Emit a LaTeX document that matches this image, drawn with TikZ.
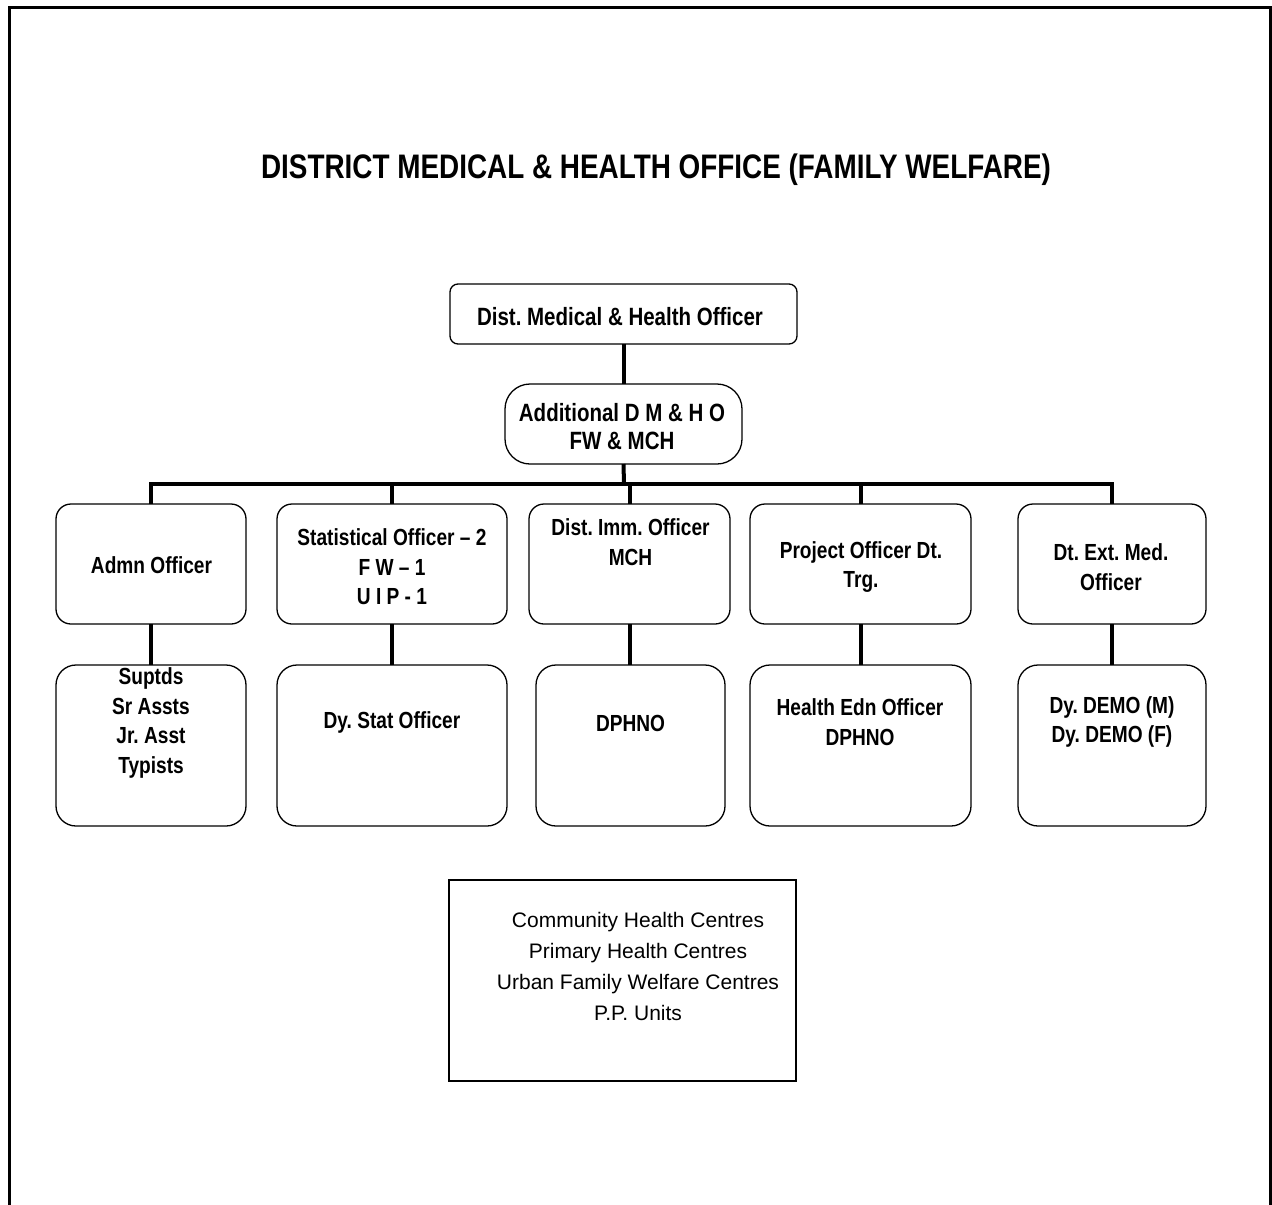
\documentclass[tikz,border=0pt]{standalone}
\usepackage{fontspec}
\setmainfont{Liberation Sans}
\newfontfamily\condensed{Liberation Sans}[FakeStretch=0.82]
\frenchspacing
\begin{document}
\begin{tikzpicture}[x=1pt,y=-1pt,
  box/.style={draw, line width=1.3pt, rounded corners=#1, inner sep=0pt, outer sep=0pt},
  rowbox/.style={box=15pt, minimum height=120pt},
  lowbox/.style={box=20pt, minimum height=161pt},
  lbl/.style={font=\condensed\bfseries\fontsize{23.3}{29.5}\selectfont, align=center, inner sep=0pt},
  headlbl/.style={font=\condensed\bfseries\fontsize{25}{28}\selectfont, align=center, inner sep=0pt},
  conn/.style={line width=4pt}]
\useasboundingbox (0,0) rectangle (1272,1205);

% page frame, open at the bottom
\draw[line width=3pt] (9,1205) -- (9,7) -- (1270,7) -- (1270,1205);

% title
\node[font=\condensed\bfseries\fontsize{34}{40}\selectfont, anchor=base, inner sep=0pt] (title) at (656,178)
  {DISTRICT MEDICAL \& HEALTH OFFICE (FAMILY WELFARE)};

% head of office
\node[box=8pt, minimum width=347pt, minimum height=60pt] (dmho) at (623.5,314) {};
\node[headlbl] (dmhoT) at (620,317) {Dist. Medical \& Health Officer};

\node[box=25pt, minimum width=237pt, minimum height=80pt] (add) at (623.5,424) {};
\node[headlbl] (addT) at (622,427) {Additional D M \& H O\\FW \& MCH};

% officers
\node[rowbox, minimum width=190pt] (admn) at (151,564) {};
\node[rowbox, minimum width=230pt] (stat) at (392,564) {};
\node[rowbox, minimum width=201pt] (imm)  at (629.5,564) {};
\node[rowbox, minimum width=221pt] (proj) at (860.5,564) {};
\node[rowbox, minimum width=188pt] (ext)  at (1112,564) {};

\node[lbl] (admnT) at (151.5,565) {Admn Officer};
\node[lbl] (statT) at (392,567) {Statistical Officer – 2\\F W – 1\\U I P - 1};
\node[lbl] (immT)  at (630.5,542) {Dist. Imm. Officer\\MCH};
\node[lbl] (projT) at (861,567) {Project Officer Dt.\\Trg.};
\node[lbl] (extT)  at (1111,567) {Dt. Ext. Med.\\Officer};

% staff under each officer
\node[lowbox, minimum width=190pt] (sup)  at (151,745.5) {};
\node[lowbox, minimum width=230pt] (dso)  at (392,745.5) {};
\node[lowbox, minimum width=189pt] (dph)  at (630.5,745.5) {};
\node[lowbox, minimum width=221pt] (heo)  at (860.5,745.5) {};
\node[lowbox, minimum width=188pt] (demo) at (1112,745.5) {};

\node[lbl] (supT)  at (151,723) {Suptds\\Sr Assts\\Jr. Asst\\Typists};
\node[lbl] (dsoT)  at (392,722) {Dy. Stat Officer};
\node[lbl] (dphT)  at (630.5,723) {DPHNO};
\node[lbl] (heoT)  at (860,722) {Health Edn Officer\\DPHNO};
\node[lbl] (demoT) at (1112,722) {Dy. DEMO (M)\\Dy. DEMO (F)};

% field units
\node[draw, line width=1.3pt, minimum width=347pt, minimum height=201pt, inner sep=0pt] (units) at (622.5,980.5) {};
\node[font=\fontsize{21}{31}\selectfont, align=center, inner sep=0pt] (unitsT) at (638,966)
  {Community Health Centres\\Primary Health Centres\\Urban Family Welfare Centres\\P.P. Units};

% reporting lines
\coordinate (bus) at (624,484);
\draw[conn] (dmho.south) -- (add.north);
\draw[conn] (add.south) -- (bus);
\draw[conn, line cap=rect] (admn.north |- bus) -- (ext.north |- bus);
\foreach \n in {admn,stat,imm,proj,ext}
  \draw[conn] (\n.north) -- (\n.north |- bus);
\draw[conn] (admn.south) -- (sup.north);
\draw[conn] (stat.south) -- (dso.north);
\draw[conn] (imm.south) -- (imm.south |- dph.north);
\draw[conn] (proj.south) -- (heo.north);
\draw[conn] (ext.south) -- (demo.north);
\end{tikzpicture}
\end{document}
